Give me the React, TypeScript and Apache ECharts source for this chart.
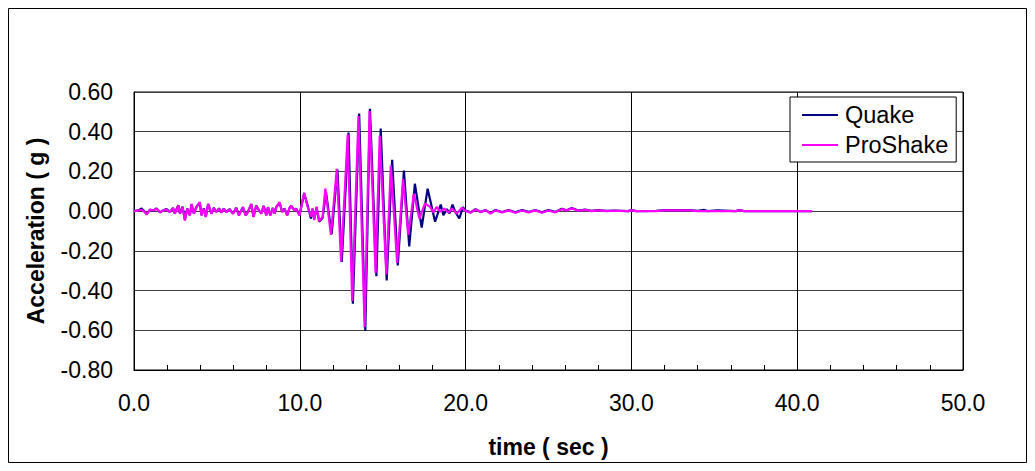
import React, { useEffect, useRef } from "react";
import * as echarts from "echarts";

// ---- data ----
const seriesNames = ["Quake", "ProShake"];
const xTickLabels = ["0.0", "10.0", "20.0", "30.0", "40.0", "50.0"];
const yTickLabels = ["-0.80", "-0.60", "-0.40", "-0.20", "0.00", "0.20", "0.40", "0.60"];

// quiet part before the strong motion (both records share these times)
const preTime = [
  0.00, 0.26, 0.46, 0.66, 0.76, 0.96, 1.16, 1.36, 1.56, 1.76,
  1.96, 2.16, 2.36, 2.46, 2.67, 2.77, 2.93, 3.07, 3.21, 3.37,
  3.47, 3.61, 3.77, 3.97, 4.07, 4.21, 4.33, 4.47, 4.67, 4.81,
  4.97, 5.13, 5.27, 5.41, 5.57, 5.77, 5.97, 6.17, 6.33, 6.47,
  6.57, 6.73, 6.87, 7.07, 7.21, 7.37, 7.54, 7.68, 7.82, 7.98,
  8.08, 8.22, 8.38, 8.48, 8.58, 8.78, 8.94, 9.08, 9.24, 9.38,
  9.48, 9.68, 9.78, 9.98,
];
const quakePre = [
  0.000, 0.004, 0.013, -0.004, -0.015, 0.008, 0.002, 0.014, -0.006, 0.004,
  0.010, -0.004, 0.016, -0.012, 0.030, -0.010, 0.022, -0.044, 0.014, -0.020,
  0.035, -0.012, 0.022, 0.042, -0.020, 0.014, -0.028, 0.035, -0.012, 0.016,
  -0.004, 0.014, -0.006, 0.013, -0.004, 0.010, -0.012, 0.017, -0.020, 0.004,
  0.020, -0.020, -0.004, 0.035, -0.028, 0.028, 0.004, -0.012, 0.027, -0.020,
  0.020, -0.020, 0.016, -0.012, 0.020, 0.042, -0.004, 0.013, -0.020, 0.016,
  0.026, 0.004, 0.013, -0.020,
];
const proPre = [
  0.000, 0.003, 0.007, -0.005, -0.017, 0.007, 0.003, 0.012, -0.005, 0.003,
  0.008, -0.005, 0.015, -0.013, 0.028, -0.013, 0.020, -0.047, 0.012, -0.022,
  0.037, -0.013, 0.020, 0.045, -0.022, 0.012, -0.030, 0.037, -0.013, 0.015,
  -0.005, 0.012, -0.008, 0.012, -0.005, 0.008, -0.013, 0.015, -0.022, 0.003,
  0.020, -0.022, -0.005, 0.037, -0.030, 0.028, 0.003, -0.013, 0.025, -0.022,
  0.020, -0.022, 0.015, -0.013, 0.020, 0.045, -0.005, 0.012, -0.022, 0.015,
  0.028, 0.003, 0.012, -0.022,
];

// strong motion, Quake record
const quakeStrongTime = [
  10.00, 10.26, 10.47, 10.67, 10.77, 10.87, 11.01, 11.17, 11.38, 11.58,
  11.92, 12.27, 12.53, 12.94, 13.20, 13.58, 13.95, 14.23, 14.62, 14.88,
  15.24, 15.57, 15.91, 16.28, 16.60, 16.94, 17.35, 17.71, 18.16, 18.50,
  18.66, 18.87, 19.03, 19.21, 19.37, 19.62, 19.84,
];
const quakeStrong = [
  -0.023, 0.088, 0.030, -0.037, 0.013, -0.040, 0.017, -0.053, -0.033, 0.096,
  -0.116, 0.209, -0.256, 0.396, -0.466, 0.492, -0.602, 0.515, -0.328, 0.416,
  -0.349, 0.259, -0.273, 0.204, -0.178, 0.138, -0.083, 0.113, -0.053, 0.033,
  -0.020, 0.010, -0.012, 0.033, -0.003, -0.037, 0.020,
];

// strong motion, ProShake record
const proStrongTime = [
  10.00, 10.26, 10.47, 10.67, 10.77, 10.87, 11.01, 11.17, 11.38, 11.54,
  11.88, 12.23, 12.49, 12.89, 13.16, 13.54, 13.91, 14.21, 14.57, 14.82,
  15.22, 15.49, 15.87, 16.23, 16.54, 16.88, 17.21, 17.55, 17.85, 18.06,
  18.26, 18.46, 18.70, 18.97, 19.17, 19.47, 19.78,
];
const proStrong = [
  -0.023, 0.093, 0.022, -0.028, 0.013, -0.045, 0.022, -0.050, -0.028, 0.113,
  -0.120, 0.213, -0.253, 0.387, -0.452, 0.479, -0.585, 0.504, -0.311, 0.379,
  -0.319, 0.229, -0.261, 0.163, -0.120, 0.088, -0.037, 0.038, 0.022, -0.007,
  0.022, -0.003, 0.013, -0.007, 0.013, -0.012, 0.017,
];

// coda (both records share these times)
const codaTime = [
  20.00, 20.30, 20.60, 20.90, 21.20, 21.50, 21.80, 22.20, 22.60, 23.00,
  23.40, 23.80, 24.20, 24.60, 25.00, 25.40, 25.80, 26.10, 26.40, 26.80,
  27.20, 27.60, 28.00, 28.50, 29.00, 29.80, 30.00, 30.30, 31.50, 32.00,
  33.50, 34.00, 34.40, 34.60, 35.20, 36.30, 36.50, 36.80, 40.90,
];
const quakeCoda = [
  0.003, -0.006, 0.010, -0.004, 0.006, -0.010, 0.006, -0.004, 0.006, -0.006,
  0.005, -0.004, 0.006, -0.006, 0.005, -0.004, 0.012, 0.004, 0.016, 0.003,
  0.008, 0.001, 0.005, 0.001, 0.003, 0.000, 0.005, 0.000, 0.001, 0.005,
  0.005, 0.001, 0.006, 0.000, 0.004, 0.000, 0.005, 0.000, 0.000,
];
const proCoda = [
  0.000, -0.008, 0.008, -0.005, 0.005, -0.012, 0.004, -0.006, 0.004, -0.008,
  0.003, -0.006, 0.004, -0.008, 0.003, -0.006, 0.010, 0.003, 0.014, 0.002,
  0.006, 0.000, 0.004, 0.000, 0.002, 0.000, 0.004, 0.000, 0.000, 0.004,
  0.004, 0.000, 0.000, 0.000, 0.000, 0.000, 0.004, 0.000, 0.000,
];

function pairs(t: number[], v: number[]): number[][] {
  const n = Math.min(t.length, v.length);
  const out: number[][] = [];
  for (let i = 0; i < n; i++) out.push([t[i], v[i]]);
  return out;
}

const FONT = "'Liberation Sans', Arial, Helvetica, sans-serif";

export default function App() {
  const ref = useRef<HTMLDivElement>(null);
  useEffect(() => {
    if (!ref.current) return;
    const chart = echarts.init(ref.current, undefined, { renderer: "svg" });
    const quakeData = [
      ...pairs(preTime, quakePre),
      ...pairs(quakeStrongTime, quakeStrong),
      ...pairs(codaTime, quakeCoda),
    ];
    const proData = [
      ...pairs(preTime, proPre),
      ...pairs(proStrongTime, proStrong),
      ...pairs(codaTime, proCoda),
    ];
    const yLabel = (v: number) => {
      const s = v.toFixed(2);
      return yTickLabels.indexOf(s) >= 0 ? s : s;
    };
    const xLabel = (v: number) => {
      const s = v.toFixed(1);
      return xTickLabels.indexOf(s) >= 0 ? s : s;
    };
    chart.setOption({
      animation: false,
      backgroundColor: "#ffffff",
      textStyle: { fontFamily: FONT },
      graphic: [
        {
          type: "rect",
          silent: true,
          z: -10,
          shape: { x: 0.5, y: 0.5, width: 1018, height: 454 },
          style: { fill: "none", stroke: "#000", lineWidth: 1 },
        },
      ],
      grid: {
        left: 126,
        top: 84,
        right: 64,
        bottom: 90,
        show: true,
        borderColor: "#000",
        borderWidth: 1,
        backgroundColor: "transparent",
      },
      legend: {
        orient: "vertical",
        left: 782,
        top: 89,
        icon: "rect",
        itemWidth: 36,
        itemHeight: 2,
        itemGap: 6,
        padding: [6, 8, 5, 12],
        borderColor: "#000",
        borderWidth: 1,
        borderRadius: 0,
        backgroundColor: "#fff",
        textStyle: { fontSize: 23.5, color: "#000", fontFamily: FONT, padding: [0, 0, 0, 2] },
        data: seriesNames,
      },
      xAxis: {
        type: "value",
        min: 0,
        max: 50,
        interval: 10,
        name: "time ( sec )",
        nameLocation: "middle",
        nameGap: 65,
        nameTextStyle: { fontSize: 23, fontWeight: "bold", color: "#000", fontFamily: FONT },
        axisLine: { show: true, onZero: false, lineStyle: { color: "#000", width: 1 } },
        axisTick: { show: true, inside: true, length: 5, lineStyle: { color: "#000" } },
        minorTick: { show: true, splitNumber: 5, length: 5, lineStyle: { color: "#000" } },
        splitLine: { show: true, lineStyle: { color: "#000", width: 1 } },
        axisLabel: { fontSize: 23, color: "#000", margin: 21, fontFamily: FONT, formatter: xLabel },
      },
      yAxis: {
        type: "value",
        min: -0.8,
        max: 0.6,
        interval: 0.2,
        name: "Acceleration ( g )",
        nameLocation: "middle",
        nameRotate: 90,
        nameGap: 87,
        nameTextStyle: { fontSize: 23, fontWeight: "bold", color: "#000", fontFamily: FONT },
        axisLine: { show: true, onZero: false, lineStyle: { color: "#000", width: 1 } },
        axisTick: { show: false },
        splitLine: { show: true, lineStyle: { color: "#404040", width: 1 } },
        axisLabel: { fontSize: 23, color: "#000", margin: 21, fontFamily: FONT, formatter: yLabel },
      },
      series: [
        {
          name: seriesNames[0],
          type: "line",
          data: quakeData,
          symbol: "none",
          color: "#000080",
          lineStyle: { width: 2.2, color: "#000080" },
          z: 2,
        },
        {
          name: seriesNames[1],
          type: "line",
          data: proData,
          symbol: "none",
          color: "#FF00FF",
          lineStyle: { width: 2.2, color: "#FF00FF" },
          z: 3,
        },
      ],
    });
    return () => chart.dispose();
  }, []);
  return <div ref={ref} style={{ width: 1019, height: 455 }} />;
}
